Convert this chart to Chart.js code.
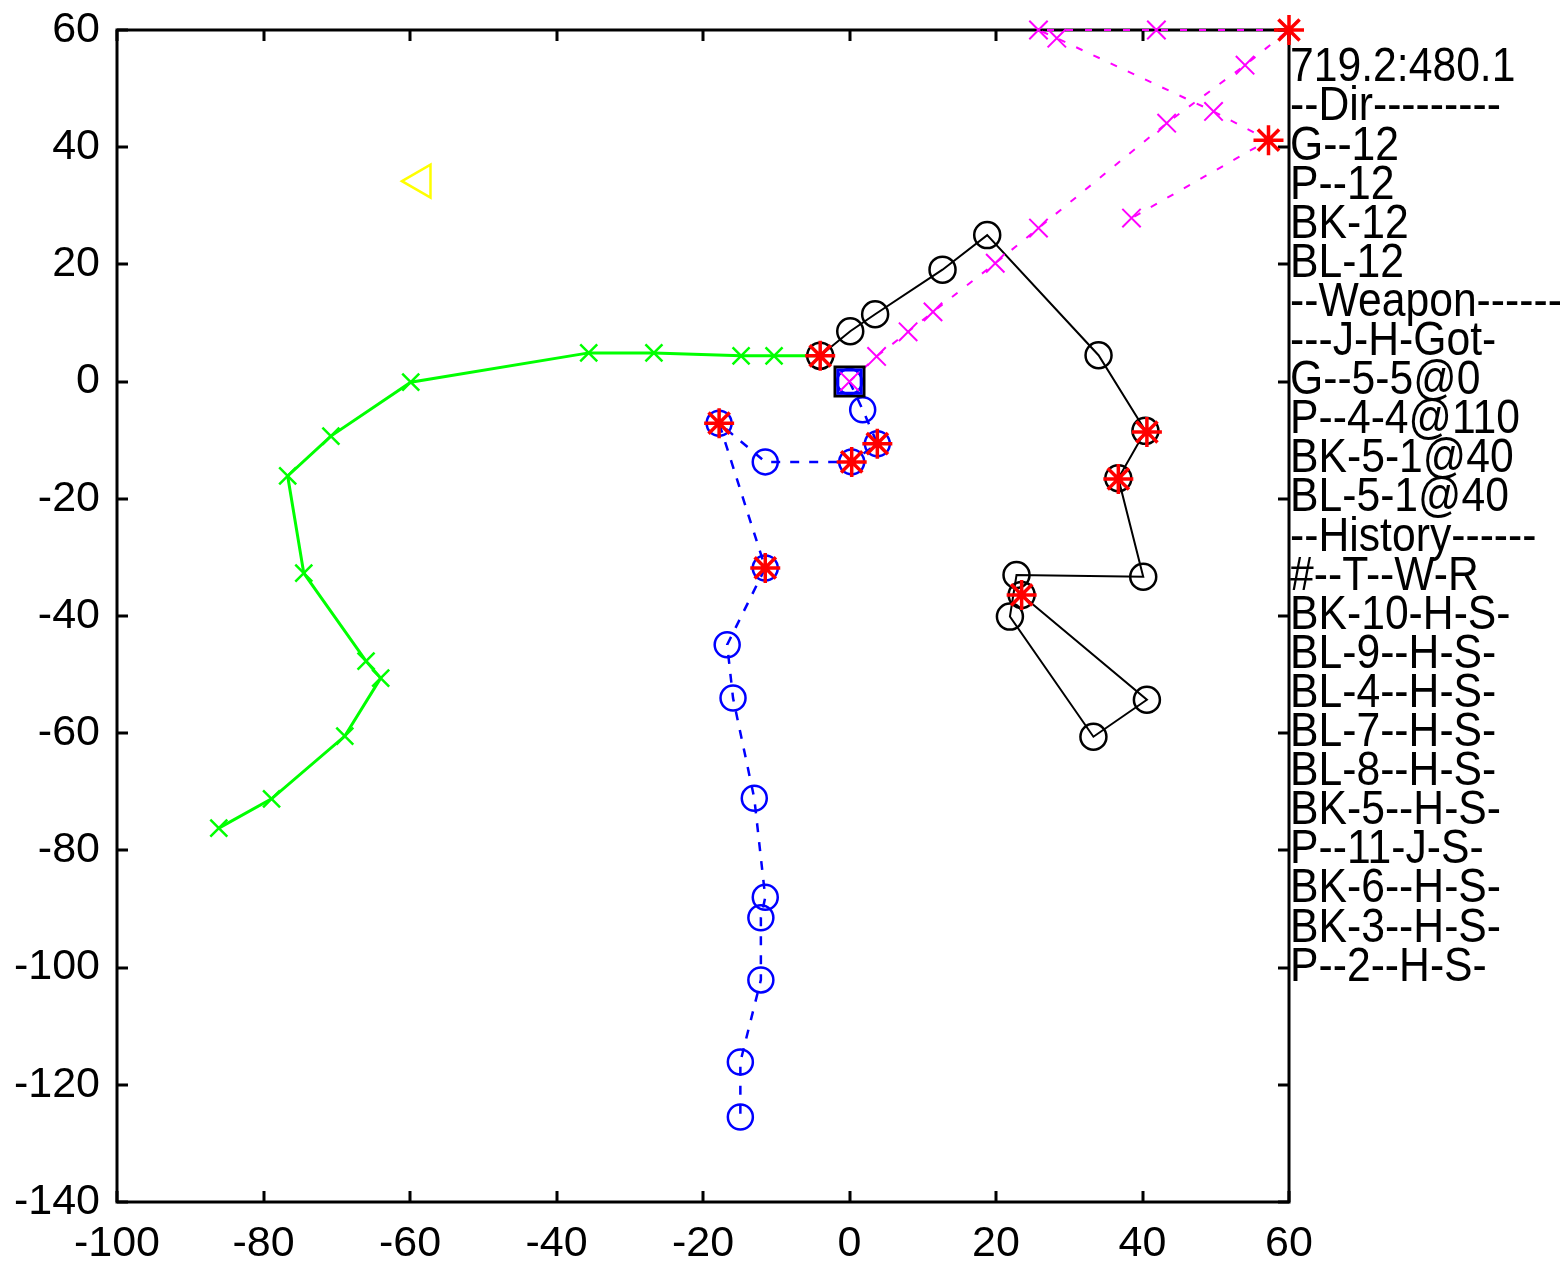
<!DOCTYPE html>
<html>
<head>
<meta charset="utf-8">
<script src="https://cdn.jsdelivr.net/npm/chart.js@4.4.0/dist/chart.umd.min.js"></script>
<style>
  html, body { margin: 0; padding: 0; background: #fff; }
  canvas { display: block; }
</style>
</head>
<body>
<canvas id="track" width="1560" height="1263"></canvas>
<script>
// ---- data ----
const xTickValues = [-100, -80, -60, -40, -20, 0, 20, 40, 60];
const yTickValues = [-140, -120, -100, -80, -60, -40, -20, 0, 20, 40, 60];

const greenX = [-86.1, -78.9, -68.9, -64.0, -66.0, -74.5, -76.7, -70.8, -59.9, -35.6, -26.7, -14.8, -10.3, -4.0];
const greenY = [-76.2, -71.2, -60.5, -50.6, -47.7, -32.7, -16.1, -9.3, -0.1, 4.9, 4.9, 4.4, 4.4, 4.4];

const blackX = [-4.0, 0.1, 3.5, 12.7, 18.8, 34.0, 40.4, 36.7, 40.1, 22.8, 21.9, 33.3, 40.6, 23.5];
const blackY = [4.4, 8.6, 11.5, 19.1, 25.0, 4.5, -8.4, -16.5, -33.3, -33.0, -40.1, -60.6, -54.3, -36.4];

const magentaX = [0, 3.7, 8.0, 11.4, 19.9, 25.8, 43.3, 54.0, 60, 41.9, 25.8, 28.3, 49.7, 57.2, 38.5];
const magentaY = [0, 4.3, 8.5, 11.9, 20.2, 26.2, 44.1, 54.0, 60, 60, 60, 58.6, 46.1, 41.2, 27.9];

const blueX = [0, 1.8, 3.8, 0.3, -11.5, -17.8, -11.5, -16.7, -15.9, -13.0, -11.5, -12.1, -12.1, -14.9, -14.9];
const blueY = [0, -4.8, -10.6, -13.7, -13.7, -7.1, -31.8, -44.9, -54.0, -71.1, -88.0, -91.5, -102.1, -116.1, -125.5];

const hitX = [-4.0, 60, 57.2, 40.6, 36.7, 23.5, -17.8, 3.8, 0.3, -11.5];
const hitY = [4.4, 60, 41.2, -8.6, -16.6, -36.4, -7.1, -10.6, -13.7, -31.8];

const startX = [0];
const startY = [0];

const flagX = [-58.5];
const flagY = [34.2];

const sideText = [
    "719.2:480.1",
    "--Dir---------",
    "G--12",
    "P--12",
    "BK-12",
    "BL-12",
    "--Weapon------",
    "---J-H-Got-",
    "G--5-5@0",
    "P--4-4@110",
    "BK-5-1@40",
    "BL-5-1@40",
    "--History------",
    "#--T--W-R",
    "BK-10-H-S-",
    "BL-9--H-S-",
    "BL-4--H-S-",
    "BL-7--H-S-",
    "BL-8--H-S-",
    "BK-5--H-S-",
    "P--11-J-S-",
    "BK-6--H-S-",
    "BK-3--H-S-",
    "P--2--H-S-"
];

const pts = (xs, ys) => xs.map((x, i) => ({ x, y: ys[i] }));

// box with inward ticks, drawn under the tracks
const frame = {
    id: "frame",
    beforeDatasetsDraw(chart) {
        const { ctx, chartArea: a, scales } = chart;
        ctx.save();
        ctx.strokeStyle = "#000";
        ctx.lineWidth = 3;
        ctx.strokeRect(a.left, a.top, a.right - a.left, a.bottom - a.top);
        ctx.beginPath();
        xTickValues.forEach(v => {
            const px = Math.round(scales.x.getPixelForValue(v));
            ctx.moveTo(px, a.bottom); ctx.lineTo(px, a.bottom - 11);
            ctx.moveTo(px, a.top); ctx.lineTo(px, a.top + 11);
        });
        yTickValues.forEach(v => {
            const py = Math.round(scales.y.getPixelForValue(v));
            ctx.moveTo(a.left, py); ctx.lineTo(a.left + 11, py);
            ctx.moveTo(a.right, py); ctx.lineTo(a.right - 11, py);
        });
        ctx.stroke();
        ctx.restore();
    }
};

// status text on the right
const sidePanel = {
    id: "sidePanel",
    afterDraw(chart) {
        const { ctx, chartArea: a } = chart;
        ctx.save();
        ctx.fillStyle = "#000";
        ctx.font = "44px 'Liberation Sans', Arial, sans-serif";
        ctx.textBaseline = "middle";
        sideText.forEach((t, i) => {
            ctx.save();
            ctx.translate(a.right + 1, 68 + i * 39.1);
            ctx.scale(0.97, 1.1);
            ctx.fillText(t, 0, 0);
            ctx.restore();
        });
        ctx.restore();
    }
};

new Chart(document.getElementById("track"), {
    type: "scatter",
    data: {
        datasets: [
            {
                label: "hits",
                data: pts(hitX, hitY),
                showLine: false,
                pointStyle: "star",
                pointRadius: 15,
                pointBorderWidth: 3.5,
                pointBorderColor: "#ff0000",
                pointBackgroundColor: "transparent",
                clip: false,
                order: 0
            },
            {
                label: "blue start",
                data: pts(startX, startY),
                showLine: false,
                pointStyle: "rect",
                pointRadius: 16.5,
                pointBorderWidth: 3,
                pointBorderColor: "#0000ff",
                pointBackgroundColor: "transparent",
                order: 1
            },
            {
                label: "black start",
                data: pts(startX, startY),
                showLine: false,
                pointStyle: "rect",
                pointRadius: 20.5,
                pointBorderWidth: 3,
                pointBorderColor: "#000",
                pointBackgroundColor: "transparent",
                order: 2
            },
            {
                label: "P",
                data: pts(magentaX, magentaY),
                showLine: true,
                borderColor: "#ff00ff",
                borderWidth: 2,
                borderDash: [7, 12],
                pointStyle: "crossRot",
                pointRadius: 13,
                pointBorderWidth: 2,
                pointBorderColor: "#ff00ff",
                pointBackgroundColor: "transparent",
                clip: false,
                order: 3
            },
            {
                label: "BL",
                data: pts(blueX, blueY),
                showLine: true,
                borderColor: "#0000ff",
                borderWidth: 2.5,
                borderDash: [9, 10],
                pointStyle: "circle",
                pointRadius: 12.5,
                pointBorderWidth: 2.5,
                pointBorderColor: "#0000ff",
                pointBackgroundColor: "transparent",
                order: 4
            },
            {
                label: "BK",
                data: pts(blackX, blackY),
                showLine: true,
                borderColor: "#000",
                borderWidth: 2,
                pointStyle: "circle",
                pointRadius: 13,
                pointBorderWidth: 2.5,
                pointBorderColor: "#000",
                pointBackgroundColor: "transparent",
                order: 5
            },
            {
                label: "G",
                data: pts(greenX, greenY),
                showLine: true,
                borderColor: "#00ff00",
                borderWidth: 3,
                pointStyle: "crossRot",
                pointRadius: 12,
                pointBorderWidth: 2.5,
                pointBorderColor: "#00ff00",
                pointBackgroundColor: "transparent",
                order: 6
            },
            {
                label: "flag",
                data: pts(flagX, flagY),
                showLine: false,
                pointStyle: "triangle",
                pointRotation: -90,
                pointRadius: 19,
                pointBorderWidth: 2.5,
                pointBorderColor: "#ffff00",
                pointBackgroundColor: "transparent",
                order: 7
            }
        ]
    },
    options: {
        responsive: false,
        animation: false,
        devicePixelRatio: 1,
        layout: {
            padding: { top: 30, right: 271, left: 0, bottom: 0 }
        },
        plugins: {
            legend: { display: false },
            tooltip: { enabled: false }
        },
        elements: {
            line: { tension: 0, fill: false }
        },
        scales: {
            x: {
                type: "linear",
                min: -100,
                max: 60,
                afterBuildTicks(scale) {
                    scale.ticks = xTickValues.map(v => ({ value: v }));
                },
                afterFit(scale) {
                    scale.height = 61;
                    scale.paddingLeft = 0;
                    scale.paddingRight = 0;
                },
                grid: { display: false, drawTicks: false, tickLength: 0 },
                border: { display: false },
                ticks: {
                    color: "#000",
                    padding: 16,
                    maxRotation: 0,
                    autoSkip: false,
                    font: { family: "'Liberation Sans', Arial, sans-serif", size: 43 }
                }
            },
            y: {
                type: "linear",
                min: -140,
                max: 60,
                afterBuildTicks(scale) {
                    scale.ticks = yTickValues.map(v => ({ value: v }));
                },
                afterFit(scale) {
                    scale.width = 117;
                    scale.paddingTop = 0;
                    scale.paddingBottom = 0;
                },
                grid: { display: false, drawTicks: false, tickLength: 0 },
                border: { display: false },
                ticks: {
                    color: "#000",
                    padding: 17,
                    autoSkip: false,
                    font: { family: "'Liberation Sans', Arial, sans-serif", size: 43 }
                }
            }
        }
    },
    plugins: [frame, sidePanel]
});
</script>
</body>
</html>
